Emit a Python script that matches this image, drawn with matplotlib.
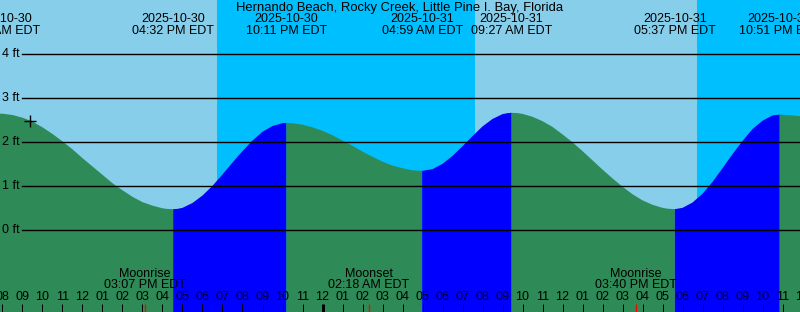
import numpy as np
import matplotlib.pyplot as plt

plt.rcParams['font.family'] = ['Liberation Sans', 'DejaVu Sans']
plt.rcParams['font.size'] = 9

# time axis: hours since 2025-10-30 00:00 EDT, heights in ft
tide_t = [7.867, 8, 8.5, 9, 9.5, 10, 10.5, 11, 11.5, 12, 12.5, 13, 13.5,
          14, 14.5, 15, 15.5, 16, 16.25, 16.533,
          16.75, 17, 17.5, 18, 18.5, 19, 19.5, 20, 20.5, 21, 21.5, 22, 22.183,
          22.5, 23, 23.5, 24, 24.5, 25, 25.5, 26, 26.5, 27, 27.5, 28, 28.5, 28.983,
          29.5, 30, 30.5, 31, 31.5, 32, 32.5, 33, 33.25, 33.45,
          33.75, 34, 34.5, 35, 35.5, 36, 36.5, 37, 37.5, 38, 38.5, 39, 39.5,
          40, 40.5, 41, 41.25, 41.617,
          42, 42.5, 43, 43.5, 44, 44.5, 45, 45.5, 46, 46.5, 46.85,
          47, 47.5, 48]
tide_h = [2.65, 2.65, 2.62, 2.56, 2.47, 2.34, 2.19, 2.02, 1.84, 1.64, 1.45, 1.26, 1.07,
          0.91, 0.76, 0.64, 0.56, 0.50, 0.485, 0.48,
          0.487, 0.51, 0.62, 0.79, 1.01, 1.27, 1.54, 1.80, 2.04, 2.24, 2.37, 2.435, 2.44,
          2.434, 2.40, 2.34, 2.26, 2.16, 2.04, 1.92, 1.79, 1.67, 1.56, 1.47, 1.41, 1.363, 1.35,
          1.39, 1.51, 1.69, 1.91, 2.14, 2.36, 2.53, 2.64, 2.663, 2.67,
          2.663, 2.646, 2.58, 2.48, 2.35, 2.18, 2.00, 1.80, 1.59, 1.38, 1.18, 0.99, 0.82,
          0.68, 0.58, 0.51, 0.491, 0.48,
          0.51, 0.63, 0.83, 1.10, 1.41, 1.73, 2.03, 2.30, 2.49, 2.61, 2.63,
          2.625, 2.61, 2.59]

# high / low tide events
event_t = [7.867, 16.533, 22.183, 28.983, 33.45, 41.617, 46.85]
event_date = ['2025-10-30', '2025-10-30', '2025-10-30', '2025-10-31',
              '2025-10-31', '2025-10-31', '2025-10-31']
event_time = ['07:52 AM EDT', '04:32 PM EDT', '10:11 PM EDT', '04:59 AM EDT',
              '09:27 AM EDT', '05:37 PM EDT', '10:51 PM EDT']

# moon events
moon_t = [15.117, 26.3, 39.667]
moon_kind = ['Moonrise', 'Moonset', 'Moonrise']
moon_time = ['03:07 PM EDT', '02:18 AM EDT', '03:40 PM EDT']

# night periods (sunset -> sunrise)
night = [(18.725, 31.625), (42.725, 48.5)]

now_t, now_h = 9.375, 2.48
levels = [0, 1, 2, 3, 4]
title = 'Hernando Beach, Rocky Creek, Little Pine I. Bay, Florida'

t = np.array(tide_t)
h = np.array(tide_h)
x0, x1 = 7.875, 47.875
y0, y1 = -1.857, 5.234

fig = plt.figure(figsize=(8, 3.12), dpi=100)
ax = fig.add_axes([0, 0, 1, 1])
ax.set_xlim(x0, x1)
ax.set_ylim(y0, y1)
ax.axis('off')

# day / night background
ax.axvspan(x0, x1, color='#87CEEB', lw=0, zorder=0)
for a, b in night:
    ax.axvspan(a, b, color='#00BFFF', lw=0, zorder=0)

# flood (rising) blue, ebb (falling) green
rise = np.diff(h) > 0
flood = np.r_[rise, False] | np.r_[False, rise]
ebb = np.r_[~rise, False] | np.r_[False, ~rise]
ax.fill_between(t, h, y0, where=ebb, color='#2E8B57', lw=0, zorder=1)
ax.fill_between(t, h, y0, where=flood, color='#0000FF', lw=0, zorder=1)

xt = ax.get_xaxis_transform()
yt = ax.get_yaxis_transform()

for lv in levels:
    ax.axhline(lv, xmin=22 / 800, xmax=1, color='black', lw=1, zorder=2)
    ax.text(2 / 800, lv, f'{lv} ft', transform=yt, ha='left', va='center', zorder=3)

ax.plot(now_t, now_h, marker='+', ms=9, mew=1, color='black', zorder=3)

ax.text(0.5, 1 - 7.5 / 312, title, transform=ax.transAxes, ha='center', va='center',
        fontsize=9.4)
for et, d, tm in zip(event_t, event_date, event_time):
    ax.text(et, 1 - 19.5 / 312, d, transform=xt, ha='center', va='center')
    ax.text(et, 1 - 31.5 / 312, tm, transform=xt, ha='center', va='center')

# hour ticks along the bottom
for hr in range(8, 49):
    lw = 3 if hr % 24 == 0 else 1
    ax.plot([hr, hr], [0, 8 / 312], transform=xt, color='black', lw=lw * 0.72,
            solid_capstyle='butt', zorder=3)
    ax.text(hr, 15 / 312, f'{(hr % 12) or 12:02d}', transform=xt,
            ha='center', va='center', zorder=3)

for mt, k, tm in zip(moon_t, moon_kind, moon_time):
    ax.plot([mt, mt], [0, 8 / 312], transform=xt, color='red', lw=1,
            solid_capstyle='butt', zorder=4)
    ax.text(mt, 1 - 274 / 312, k, transform=xt, ha='center', va='center', zorder=3)
    ax.text(mt, 1 - 285.5 / 312, tm, transform=xt, ha='center', va='center', zorder=3)

fig.savefig('out.png', dpi=100)
